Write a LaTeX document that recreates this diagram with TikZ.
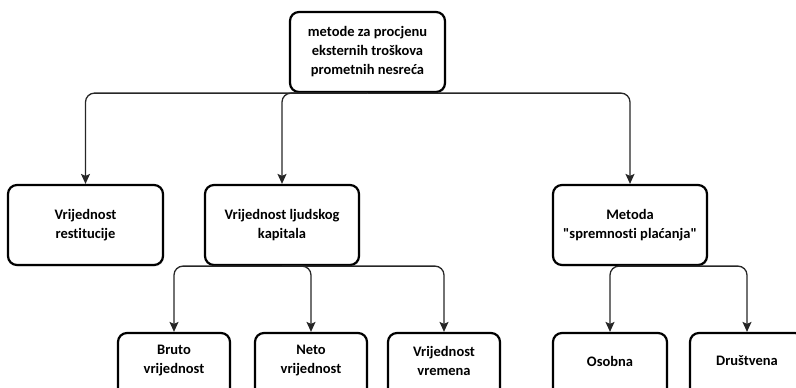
\documentclass[tikz,border=0pt]{standalone}
\usepackage{fontspec}
\setmainfont{Carlito}[Ligatures={TeX,NoCommon}]
\usetikzlibrary{arrows.meta,shadows}
\begin{document}
\begin{tikzpicture}[x=1pt,y=-1pt,
  box/.style={draw=black, line width=2.2pt, rounded corners=9pt, fill=white,
    drop shadow={opacity=0.2, shadow xshift=1pt, shadow yshift=-1.5pt},
    align=center, font=\bfseries\fontsize{14.5}{19}\selectfont, inner sep=2pt},
  txt/.style={align=center, font=\bfseries\fontsize{14.5}{19}\selectfont, inner sep=0pt},
  conn/.style={draw=black!85, line width=1.3pt, rounded corners=9pt,
    -{Stealth[length=10pt,width=9pt,inset=2pt]}}]
\useasboundingbox (0,0) rectangle (796,388);
\clip (0,0) rectangle (796,388);
\node[box, minimum width=155pt, minimum height=80pt] (top) at (367.5,52)
  {metode za procjenu\\eksternih troškova\\prometnih nesreća};
\node[box, minimum width=155pt, minimum height=80pt] (b1) at (85.5,225)
  {Vrijednost\\restitucije};
\node[box, minimum width=154pt, minimum height=80pt] (b2) at (282,225)
  {Vrijednost ljudskog\\kapitala};
\node[box, minimum width=154pt, minimum height=80pt] (b3) at (630,225)
  {Metoda\\\textquotedbl spremnosti plaćanja\textquotedbl};
\node[box, minimum width=112pt, minimum height=90pt] (c1) at (174,378) {};
\node[txt] (c1t) at (174,361) {Bruto\\vrijednost};
\node[box, minimum width=112pt, minimum height=90pt] (c2) at (311,378) {};
\node[txt] (c2t) at (311,361) {Neto\\vrijednost};
\node[box, minimum width=112pt, minimum height=90pt] (c3) at (444,378) {};
\node[txt] (c3t) at (444,361) {Vrijednost\\vremena};
\node[box, minimum width=114pt, minimum height=90pt] (d1) at (610,378) {};
\node[txt] (d1t) at (610,361) {Osobna};
\node[box, minimum width=114pt, minimum height=90pt] (d2) at (747,378) {};
\node[txt] (d2t) at (747,361) {Društvena};
\draw[conn] (top.south) -| (b1.north);
\draw[conn] (top.south) -| (b2.north);
\draw[conn] (top.south) -| (b3.north);
\draw[conn] (b2.south) -| (c1.north);
\draw[conn] (b2.south) -| (c2.north);
\draw[conn] (b2.south) -| (c3.north);
\draw[conn] (b3.south) -| (d1.north);
\draw[conn] (b3.south) -| (d2.north);
\end{tikzpicture}
\end{document}
